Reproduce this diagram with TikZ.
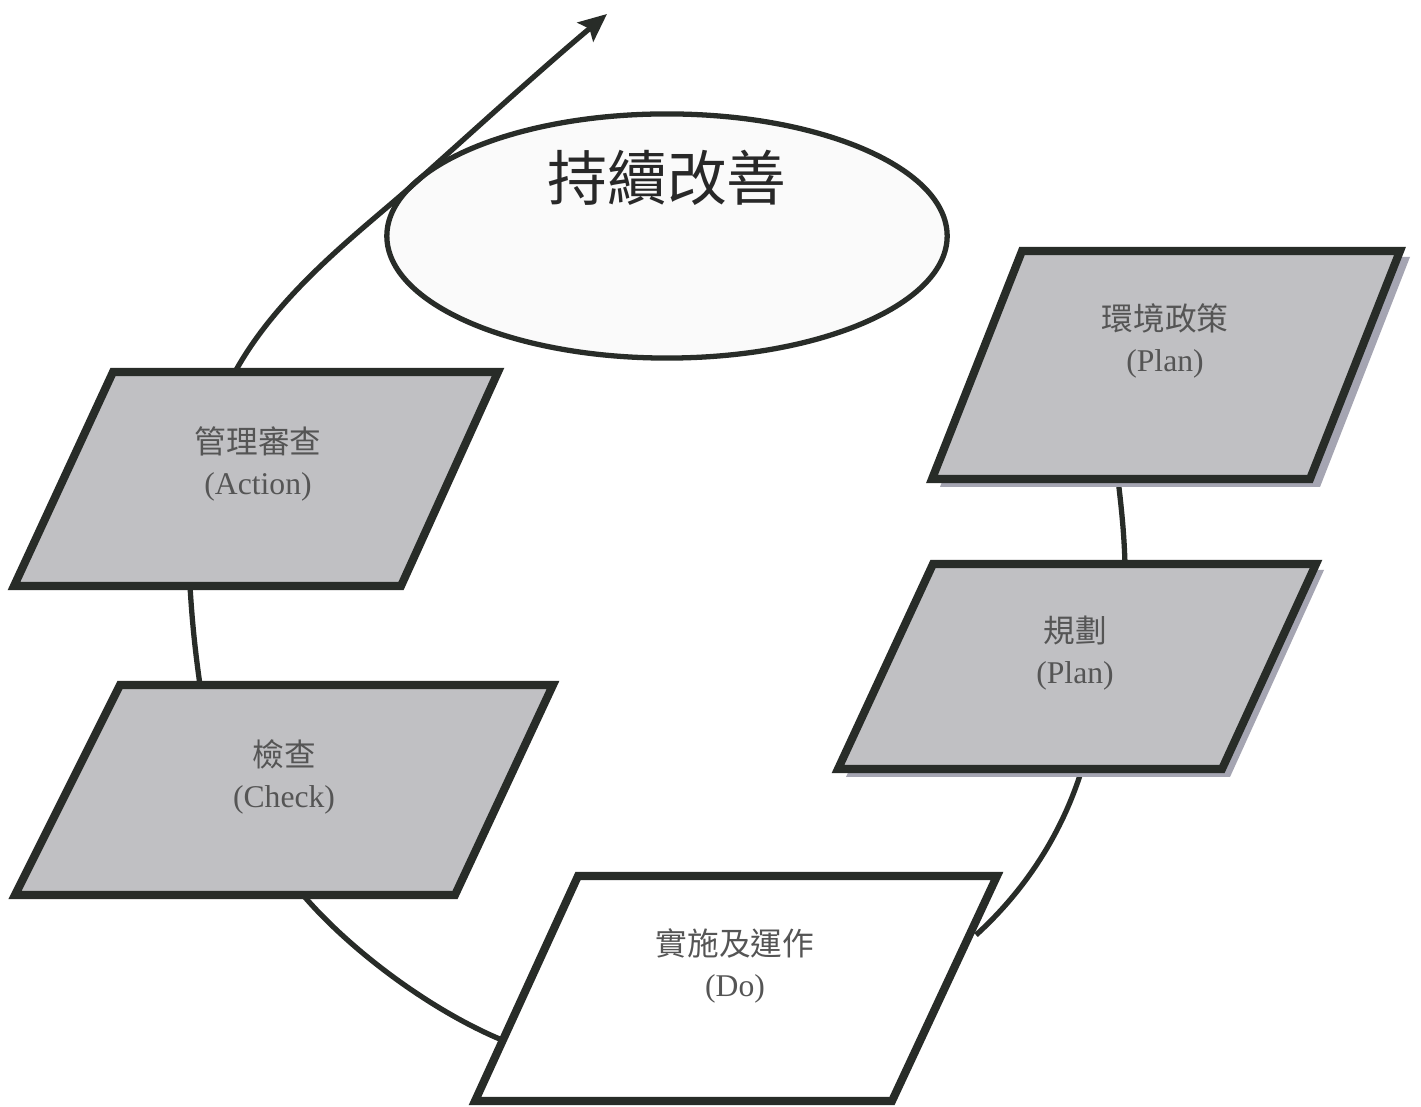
\documentclass[tikz,border=0pt]{standalone}
\usepackage{fontspec}
\setmainfont{Liberation Serif}
\newfontfamily\cjk{Noto Sans CJK TC}
\usetikzlibrary{shapes.geometric,arrows.meta}
\definecolor{boxfill}{RGB}{192,192,195}
\definecolor{boxline}{RGB}{40,44,40}
\definecolor{boxshadow}{RGB}{165,165,178}
\definecolor{txtgray}{RGB}{85,85,85}
\definecolor{titlegray}{RGB}{40,40,40}
\tikzset{
  pbox/.style={draw=boxline, line width=2.3pt, line join=miter, fill=boxfill},
  pwhite/.style={draw=boxline, line width=2.3pt, line join=miter, fill=white},
  pshadow/.style={fill=boxshadow, draw=none},
  link/.style={draw=boxline, line width=1.5pt},
  boxtext/.style={align=center, text=txtgray, font=\fontsize{9}{11.6}\selectfont, inner sep=0pt},
  goal/.style={ellipse, draw=boxline, line width=1.5pt, fill=white!98!black,
    minimum width=5.6cm, minimum height=2.44cm, inner sep=0pt}
}
\begin{document}
\begin{tikzpicture}[x=0.01cm, y=-0.01cm]
\useasboundingbox (0,0) rectangle (1421,1107);
\fill[white] (0,0) rectangle (1421,1107);

% goal ellipse
\node[goal] (goal) at (667,236) {};
\node[text=titlegray, font=\cjk\fontsize{17}{20}\selectfont, inner sep=0pt] (title) at (667,178) {持續改善};

% connection points on the boxes
\coordinate (actT) at (235,372);
\coordinate (touch) at (415,183);
\coordinate (arrEnd) at (607,14);
\coordinate (actB) at (190,586);
\coordinate (chkT) at (200,685);
\coordinate (chkB) at (303,895);
\coordinate (doL) at (502,1040);
\coordinate (doR) at (976,935);
\coordinate (plnB) at (1082,769);
\coordinate (plnT) at (1125,564);
\coordinate (envB) at (1118,479);

% cycle connectors
\draw[link, -{Stealth[length=8pt,width=7pt,inset=1.5pt]}]
  (actT) .. controls (280,290) and (365,228) .. (touch)
         .. controls (460,143) and (540,70) .. (arrEnd);
\draw[link] (actB) .. controls (192,620) and (195,650) .. (chkT);
\draw[link] (chkB) .. controls (350,950) and (430,1010) .. (doL);
\draw[link] (plnB) .. controls (1060,840) and (1020,895) .. (doR);
\draw[link] (envB) .. controls (1121,505) and (1124,530) .. (plnT);

% shadows
\path[pshadow] (1030,257) -- (1410,257) -- (1320,487) -- (940,487) -- cycle;
\path[pshadow] (941,570) -- (1324,570) -- (1230,777) -- (846,777) -- cycle;

% boxes
\draw[pbox] (1022,251) -- (1400,251) -- (1310,479) -- (932,479) -- cycle;
\draw[pbox] (933,564) -- (1316,564) -- (1222,769) -- (838,769) -- cycle;
\draw[pbox] (113,372) -- (498,372) -- (401,586) -- (14,586) -- cycle;
\draw[pbox] (120,685) -- (553,685) -- (455,895) -- (15,895) -- cycle;
\draw[pwhite] (578,876) -- (997,876) -- (892,1101) -- (475,1101) -- cycle;

% labels
\node[boxtext] (env) at (1165,341) {{\cjk 環境政策}\\(Plan)};
\node[boxtext] (pln) at (1075,653) {{\cjk 規劃}\\(Plan)};
\node[boxtext] (act) at (258,464) {{\cjk 管理審查}\\(Action)};
\node[boxtext] (chk) at (284,777) {{\cjk 檢查}\\(Check)};
\node[boxtext] (do) at (735,966) {{\cjk 實施及運作}\\(Do)};
\end{tikzpicture}
\end{document}
